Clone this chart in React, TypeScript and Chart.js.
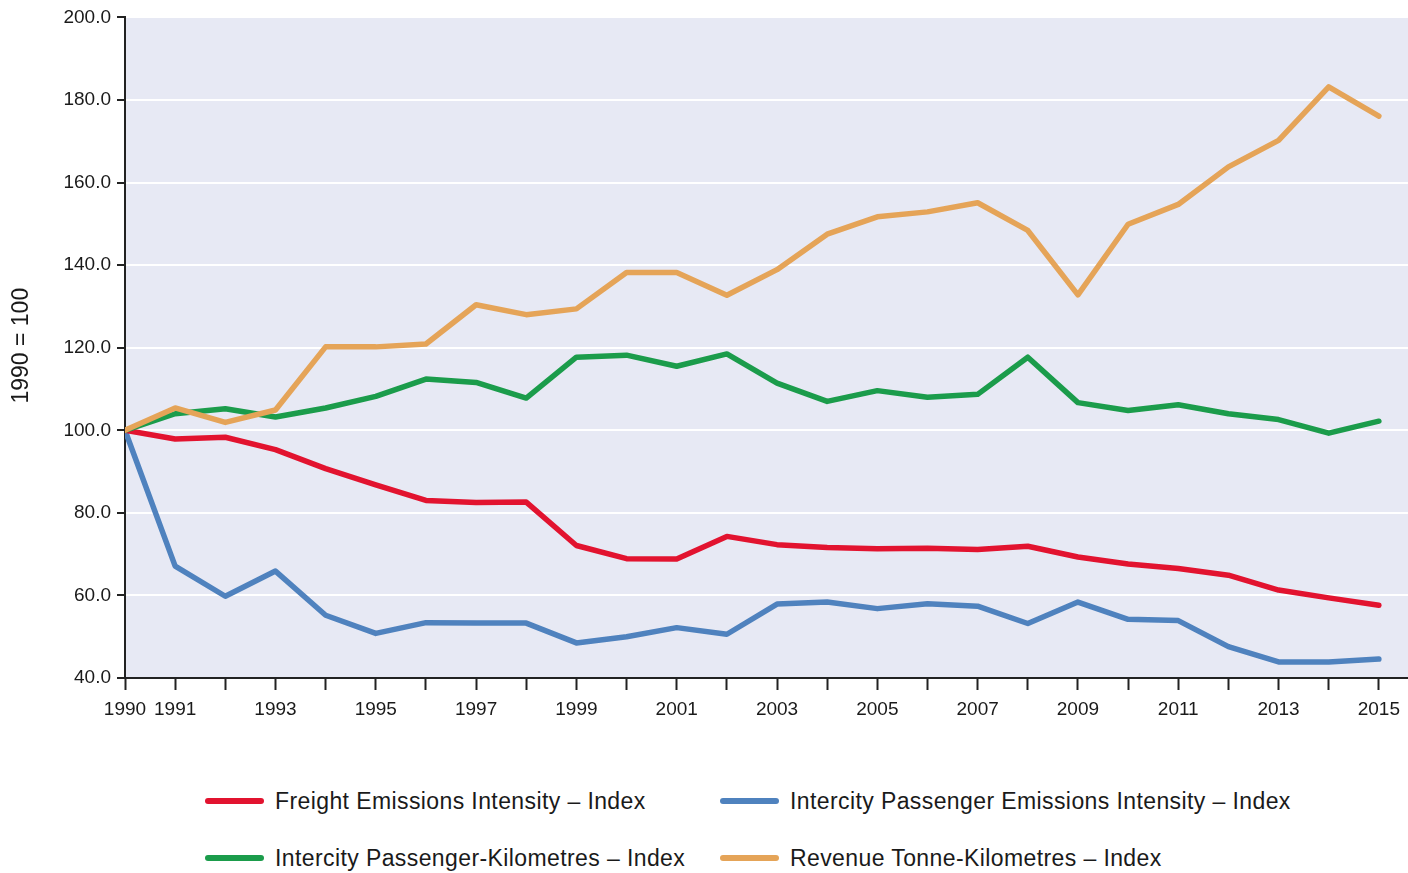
import React, { useEffect, useRef } from "react";
import { Chart, registerables } from "chart.js";

Chart.register(...registerables);

const years = [1990,1991,1992,1993,1994,1995,1996,1997,1998,1999,2000,2001,2002,2003,2004,2005,2006,2007,2008,2009,2010,2011,2012,2013,2014,2015];

const freightEmissions = [100,97.9,98.3,95.3,90.7,86.8,83.0,82.5,82.6,72.1,68.9,68.8,74.3,72.3,71.6,71.3,71.4,71.1,71.9,69.3,67.6,66.5,64.9,61.3,59.4,57.6];
const passengerEmissions = [100,67.1,59.8,65.9,55.2,50.8,53.4,53.3,53.3,48.5,50.0,52.2,50.6,57.9,58.4,56.8,58.0,57.4,53.2,58.4,54.2,53.9,47.6,43.9,43.9,44.6];
const passengerKm = [100,104.0,105.2,103.2,105.4,108.2,112.4,111.6,107.8,117.7,118.2,115.5,118.5,111.4,107.0,109.6,108.0,108.7,117.7,106.7,104.8,106.2,104.0,102.6,99.3,102.2];
const tonneKm = [100,105.4,101.9,104.9,120.2,120.2,120.9,130.4,128.0,129.4,138.2,138.2,132.7,138.9,147.5,151.7,152.9,155.1,148.4,132.8,149.9,154.7,163.8,170.2,183.2,176.1];

const seriesNames = [
  "Freight Emissions Intensity – Index",
  "Intercity Passenger Emissions Intensity – Index",
  "Intercity Passenger-Kilometres – Index",
  "Revenue Tonne-Kilometres – Index",
];
const seriesColors = ["#e2132f", "#4f82be", "#1b9c4b", "#e5a458"];
const seriesValues = [freightEmissions, passengerEmissions, passengerKm, tonneKm];
const drawOrder = [2, 3, 1, 0];

const yTitle = "1990 = 100";
const FONT = "'Liberation Sans', Arial, Helvetica, sans-serif";
const TEXT = "#1a1a1a";

export default function App() {
  const ref = useRef<HTMLCanvasElement | null>(null);

  useEffect(() => {
    if (!ref.current) return;
    const bgPlugin = {
      id: "bg",
      beforeDraw(chart: any) {
        const { ctx, chartArea } = chart;
        ctx.save();
        ctx.fillStyle = "#e7e9f4";
        ctx.fillRect(chartArea.left, chartArea.top, chartArea.right - chartArea.left, chartArea.bottom - chartArea.top);
        ctx.restore();
      },
      afterDraw(chart: any) {
        const { ctx, chartArea } = chart;
        ctx.save();
        ctx.translate(22, (chartArea.top + chartArea.bottom) / 2 - 2);
        ctx.rotate(-Math.PI / 2);
        ctx.fillStyle = TEXT;
        ctx.font = `23px ${FONT}`;
        ctx.textAlign = "center";
        ctx.textBaseline = "middle";
        ctx.fillText(yTitle, 0, 0);
        ctx.restore();
      },
    };

    const chart = new Chart(ref.current, {
      type: "line",
      data: {
        datasets: seriesValues.map((vals, i) => ({
          label: seriesNames[i],
          data: years.map((y, j) => ({ x: y, y: vals[j] })),
          borderColor: seriesColors[i],
          backgroundColor: seriesColors[i],
          borderWidth: 5.5,
          pointRadius: 0,
          tension: 0,
          borderJoinStyle: "round" as const,
          borderCapStyle: "round" as const,
          order: drawOrder[i],
        })),
      },
      options: {
        animation: false,
        responsive: false,
        maintainAspectRatio: false,
        layout: { padding: { top: 16, right: 0, bottom: 0, left: 0 } },
        plugins: {
          legend: { display: false },
          tooltip: { enabled: false },
        },
        scales: {
          x: {
            type: "linear",
            min: 1990,
            max: 2015.58,
            afterBuildTicks: (s: any) => {
              s.ticks = years.map((v) => ({ value: v }));
            },
            afterFit: (s: any) => {
              s.height = 62;
            },
            ticks: {
              autoSkip: false,
              maxRotation: 0,
              includeBounds: false,
              padding: 8,
              color: TEXT,
              font: { family: FONT, size: 19 },
              callback: (v: any) => (v === 1990 || v % 2 === 1 ? String(v) : ""),
            },
            grid: {
              drawOnChartArea: false,
              drawTicks: true,
              tickLength: 12,
              tickColor: "#222",
              tickWidth: 2,
            },
            border: { color: "#222", width: 2 },
          },
          y: {
            min: 40,
            max: 200,
            afterFit: (s: any) => {
              s.width = 125;
            },
            ticks: {
              stepSize: 20,
              padding: 6,
              color: TEXT,
              font: { family: FONT, size: 19 },
              callback: (v: any) => Number(v).toFixed(1),
            },
            grid: {
              color: "#ffffff",
              lineWidth: 2,
              tickLength: 8,
              tickColor: "#222",
              tickWidth: 2,
            },
            border: { color: "#222", width: 2 },
          },
        },
      },
      plugins: [bgPlugin],
    });
    return () => chart.destroy();
  }, []);

  const legendPos = [
    { sw: 205, tx: 275, y: 801 },
    { sw: 720, tx: 790, y: 801 },
    { sw: 205, tx: 275, y: 858 },
    { sw: 720, tx: 790, y: 858 },
  ];

  return (
    <div style={{ position: "absolute", left: 0, top: 0, width: 1408, height: 873, background: "#fff", overflow: "hidden" }}>
      <canvas ref={ref} width={1408} height={740} style={{ position: "absolute", left: 0, top: 0, width: 1408, height: 740 }} />
      {seriesNames.map((name, i) => (
        <React.Fragment key={name}>
          <div
            style={{
              position: "absolute",
              left: legendPos[i].sw,
              top: legendPos[i].y - 3,
              width: 59,
              height: 6,
              borderRadius: 3,
              background: seriesColors[i],
            }}
          />
          <div
            style={{
              position: "absolute",
              left: legendPos[i].tx,
              top: legendPos[i].y - 14,
              height: 28,
              lineHeight: "28px",
              fontFamily: FONT,
              fontSize: 23,
              letterSpacing: 0.4,
              color: TEXT,
              whiteSpace: "nowrap",
            }}
          >
            {name}
          </div>
        </React.Fragment>
      ))}
    </div>
  );
}
